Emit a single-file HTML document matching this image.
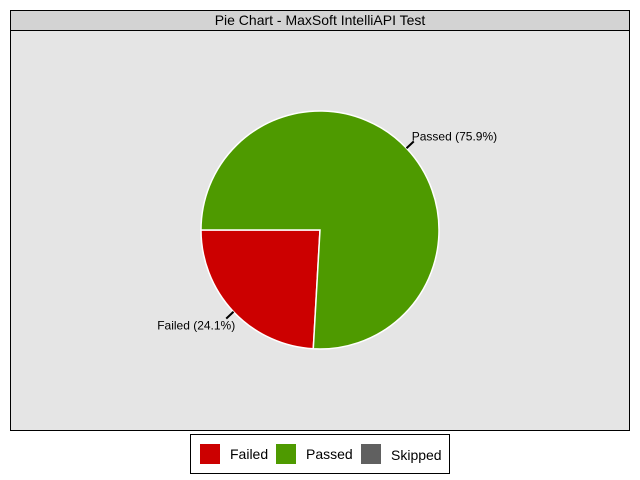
<!DOCTYPE html>
<html><head><meta charset="utf-8"><style>
html,body{margin:0;padding:0;background:#fff;}
svg{display:block;font-family:"Liberation Sans",Arial,sans-serif;}
</style></head><body>
<svg id="chart" width="640" height="480" viewBox="0 0 640 480">
  <rect x="10.5" y="10.5" width="619" height="420" fill="#e5e5e5" stroke="#000"/>
  <rect x="10.5" y="10.5" width="619" height="20" fill="#d3d3d3" stroke="#000"/>
  <text x="320" y="25" text-anchor="middle" font-size="14" fill="#000">Pie Chart - MaxSoft IntelliAPI Test</text>
  <g id="slices"></g>
  <g id="labels"></g>
  <g>
    <rect x="190.5" y="434.5" width="259" height="39" fill="#fff" stroke="#000"/>
    <rect x="200" y="444" width="20" height="20" fill="#cc0000"/>
    <text x="230" y="459" font-size="14">Failed</text>
    <rect x="276" y="444" width="20" height="20" fill="#4e9a00"/>
    <text x="306" y="459" font-size="14">Passed</text>
    <rect x="361" y="444" width="20" height="20" fill="#606060"/>
    <text x="391" y="460" font-size="14">Skipped</text>
  </g>
</svg>
<script>
const categories = ["Failed", "Passed", "Skipped"];
const values = [24.1, 75.9, 0];
const colors = ["#cc0000", "#4e9a00", "#606060"];

const NS = "http://www.w3.org/2000/svg";
const cx = 320, cy = 230, r = 119;
const total = values.reduce((a, b) => a + b, 0);
const gS = document.getElementById("slices");
const gL = document.getElementById("labels");
function pt(a, rad) { return [cx + rad * Math.cos(a), cy - rad * Math.sin(a)]; }
let start = Math.PI;
values.forEach((v, i) => {
  if (v <= 0) return;
  const sweep = v / total * 2 * Math.PI;
  const a0 = start, a1 = start + sweep;
  const p0 = pt(a0, r), p1 = pt(a1, r);
  const large = sweep > Math.PI ? 1 : 0;
  const path = document.createElementNS(NS, "path");
  path.setAttribute("d", `M${cx},${cy} L${p0[0]},${p0[1]} A${r},${r} 0 ${large} 0 ${p1[0]},${p1[1]} Z`);
  path.setAttribute("fill", colors[i]);
  path.setAttribute("stroke", "#fff");
  path.setAttribute("stroke-width", "1.5");
  
  
  gS.appendChild(path);
  const mid = (a0 + a1) / 2;
  const e0 = pt(mid, r), e1 = pt(mid, r + 10);
  const ln = document.createElementNS(NS, "line");
  ln.setAttribute("x1", e0[0]); ln.setAttribute("y1", e0[1]);
  ln.setAttribute("x2", e1[0]); ln.setAttribute("y2", e1[1]);
  ln.setAttribute("stroke", "#000"); ln.setAttribute("stroke-width", "2");
  
  
  gL.appendChild(ln);
  const t = document.createElementNS(NS, "text");
  const right = Math.cos(mid) >= 0;
  if (right) { t.setAttribute("x", e1[0] - 2); t.setAttribute("y", e1[1] - 1); }
  else { t.setAttribute("x", e1[0] + 9); t.setAttribute("y", e1[1] + 11); t.setAttribute("text-anchor", "end"); }
  t.setAttribute("font-size", "12");
  t.textContent = categories[i] + " (" + v.toFixed(1) + "%)";
  
  
  gL.appendChild(t);
  start = a1;
});
</script>
</body></html>
